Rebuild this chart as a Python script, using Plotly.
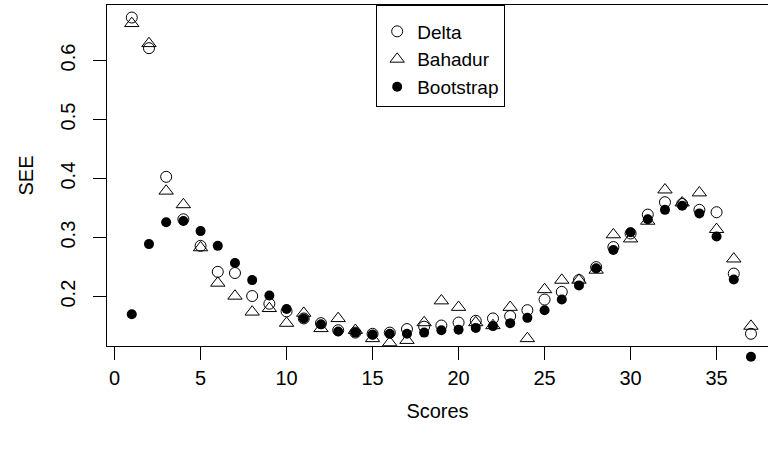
import plotly.graph_objects as go

scores = list(range(1, 38))
delta = [0.673, 0.621, 0.403, 0.331, 0.286, 0.242, 0.240, 0.201, 0.188, 0.175,
         0.163, 0.155, 0.143, 0.139, 0.137, 0.139, 0.145, 0.149, 0.151, 0.156,
         0.159, 0.163, 0.167, 0.177, 0.195, 0.208, 0.228, 0.250, 0.284, 0.307,
         0.339, 0.360, 0.357, 0.347, 0.343, 0.239, 0.137]
bahadur = [0.663, 0.629, 0.379, 0.356, 0.283, 0.223, 0.201, 0.174, 0.180, 0.155,
           0.172, 0.146, 0.163, 0.143, 0.129, 0.122, 0.126, 0.156, 0.193, 0.182,
           0.156, 0.151, 0.182, 0.129, 0.212, 0.228, 0.228, 0.245, 0.305, 0.298,
           0.328, 0.381, 0.359, 0.376, 0.314, 0.264, 0.150]
bootstrap = [0.170, 0.289, 0.326, 0.328, 0.311, 0.286, 0.257, 0.228, 0.202, 0.179,
             0.163, 0.153, 0.141, 0.139, 0.136, 0.137, 0.137, 0.139, 0.143, 0.144,
             0.147, 0.150, 0.155, 0.164, 0.177, 0.195, 0.219, 0.248, 0.279, 0.309,
             0.331, 0.347, 0.354, 0.341, 0.302, 0.229, 0.098]

x_ticks = [0, 5, 10, 15, 20, 25, 30, 35]
y_ticks = [0.2, 0.3, 0.4, 0.5, 0.6]

font = "Liberation Sans, Arial, sans-serif"
FS = 20

# geometry: box from y=5 to y=346 px; extra 20 px below for points past the box
box_px = 341
extra_px = 20
x_lo, x_hi = -0.44, 37.99
y_lo, y_hi = 0.1163, 0.6942
y2_lo = y_lo - extra_px * (y_hi - y_lo) / box_px
dom_lo = extra_px / (box_px + extra_px)

fig = go.Figure()
fig.add_trace(go.Scatter(
    x=scores, y=delta, mode="markers", name="Delta", cliponaxis=False,
    legendgroup="a", xaxis="x", yaxis="y",
    marker=dict(symbol="circle-open", size=11, color="black", line=dict(width=1, color="black"))))
fig.add_trace(go.Scatter(
    x=scores, y=bahadur, mode="markers", name="Bahadur", cliponaxis=False,
    legendgroup="b", xaxis="x", yaxis="y",
    marker=dict(symbol="triangle-up-open", size=12.5, color="black", line=dict(width=1, color="black"))))
fig.add_trace(go.Scatter(
    x=scores, y=bootstrap, mode="markers", name="Bootstrap", cliponaxis=False,
    legendgroup="c", xaxis="x2", yaxis="y2",
    marker=dict(symbol="circle", size=10, color="black", line=dict(width=0))))

fig.update_layout(
    width=768, height=450,
    margin=dict(l=107, r=0, t=5, b=104 - extra_px),
    paper_bgcolor="white", plot_bgcolor="rgba(0,0,0,0)",
    font=dict(family=font, size=FS, color="black"),
    showlegend=True,
    legend=dict(x=0.5048, y=1, xanchor="center", yanchor="top", yref="paper",
                bordercolor="black", borderwidth=1, bgcolor="white",
                font=dict(size=19), tracegroupgap=0, itemsizing="trace",
                title=dict(text=" ", font=dict(size=5))),
    xaxis=dict(range=[x_lo, x_hi], domain=[0, 1], tickvals=x_ticks,
               ticktext=[str(v) for v in x_ticks], anchor="y",
               showgrid=False, zeroline=False, showline=True, mirror=True,
               linecolor="black", linewidth=1, ticks="outside", ticklen=13,
               tickcolor="black", tickwidth=1, tickfont=dict(size=FS),
               ticklabelstandoff=1,
               title=dict(text="Scores", font=dict(size=FS), standoff=15)),
    yaxis=dict(range=[y_lo, y_hi], domain=[dom_lo, 1], anchor="x", tickvals=y_ticks,
               ticktext=[f"{v:.1f}" for v in y_ticks],
               showgrid=False, zeroline=False, showline=True, mirror=False,
               linecolor="black", linewidth=1, ticks="outside", ticklen=13,
               tickcolor="black", tickwidth=1, tickangle=-90, tickfont=dict(size=FS),
               ticklabelstandoff=10,
               title=dict(text="SEE", font=dict(size=FS), standoff=18)),
    xaxis2=dict(range=[x_lo, x_hi], domain=[0, 1], anchor="y2", visible=False,
                showgrid=False, zeroline=False),
    yaxis2=dict(range=[y2_lo, y_hi], domain=[0, 1], anchor="x2", visible=False,
                showgrid=False, zeroline=False),
)

fig.write_html("out.html",
               config={"displayModeBar": False},
               post_script="document.body.style.margin='0';document.body.style.padding='0';document.documentElement.style.overflow='hidden';")
